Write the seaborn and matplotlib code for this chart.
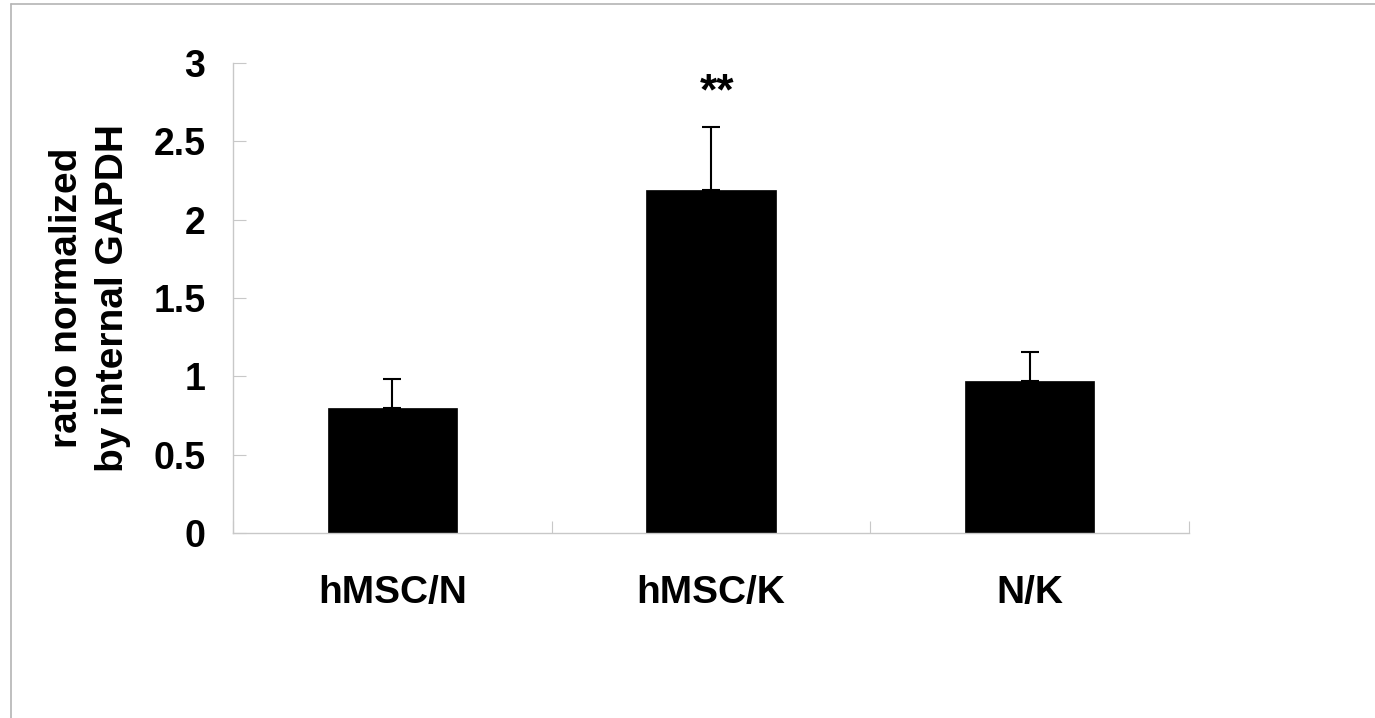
import matplotlib
matplotlib.use("Agg")
import matplotlib.pyplot as plt
from matplotlib.lines import Line2D
import seaborn as sns
import pandas as pd
import numpy as np

groups = ["hMSC/N", "hMSC/K", "N/K"]
ratio = [0.80, 2.19, 0.97]
sd = [0.18, 0.40, 0.185]
marks = ["", "**", ""]
y_ticks = [0, 0.5, 1, 1.5, 2, 2.5, 3]
y_tick_labels = ["0", "0.5", "1", "1.5", "2", "2.5", "3"]

sns.set_style("white")
plt.rcParams['font.family'] = ['Liberation Sans', 'DejaVu Sans']
plt.rcParams['font.weight'] = 'bold'
plt.rcParams['text.color'] = 'black'
plt.rcParams['axes.labelcolor'] = 'black'

df = pd.DataFrame({"group": groups, "ratio": ratio})

fig = plt.figure(figsize=(13.75, 7.18), dpi=100)
ax = fig.add_axes([0.1695, 0.2577, 0.6952, 0.6546])

sns.barplot(data=df, x="group", y="ratio", color="black", width=0.405,
            edgecolor="black", linewidth=0.5, errorbar=None, ax=ax)
x = np.arange(len(groups))
ax.errorbar(x, ratio, yerr=[np.zeros(len(sd)), sd], fmt="none", ecolor="black",
            elinewidth=1.5, capsize=6.5, capthick=1.5)

for xi, top, m in zip(x, np.array(ratio) + np.array(sd), marks):
    if m:
        ax.text(xi + 0.02, top + 0.22, m, ha="center", va="center", fontsize=32, fontweight="bold")

ax.set_xlim(-0.5, 2.5)
ax.set_ylim(0, 3)
ax.set_yticks(y_ticks)
ax.set_yticklabels(y_tick_labels)
ax.set_xticks(x)
ax.set_xticklabels(groups)
ax.set_xticks(np.arange(-0.5, 3, 1), minor=True)

ax.tick_params(axis="y", left=True, direction="in", length=9, width=0.8, color="#c8c8c8",
               pad=20, labelsize=27, labelcolor="black")
ax.tick_params(axis="x", which="major", bottom=False, length=0, pad=30, labelsize=28,
               labelcolor="black")
ax.tick_params(axis="x", which="minor", bottom=True, direction="in", length=9, width=0.8,
               color="#c8c8c8")
ax.set_xlabel("")
ax.set_ylabel("ratio normalized\nby internal GAPDH", fontsize=28, fontweight="bold",
              labelpad=16, linespacing=1.35)

for side in ["top", "right"]:
    ax.spines[side].set_visible(False)
for side in ["left", "bottom"]:
    ax.spines[side].set_color("#c8c8c8")
    ax.spines[side].set_linewidth(1.0)

# faint frame at the top and left edge of the picture
fig.add_artist(Line2D([0.008, 1.0], [0.9944, 0.9944], transform=fig.transFigure, color="#b4b4b4", lw=1.2))
fig.add_artist(Line2D([0.008, 0.008], [0.0, 0.9944], transform=fig.transFigure, color="#b4b4b4", lw=1.2))

fig.savefig("out.png", dpi=100)
